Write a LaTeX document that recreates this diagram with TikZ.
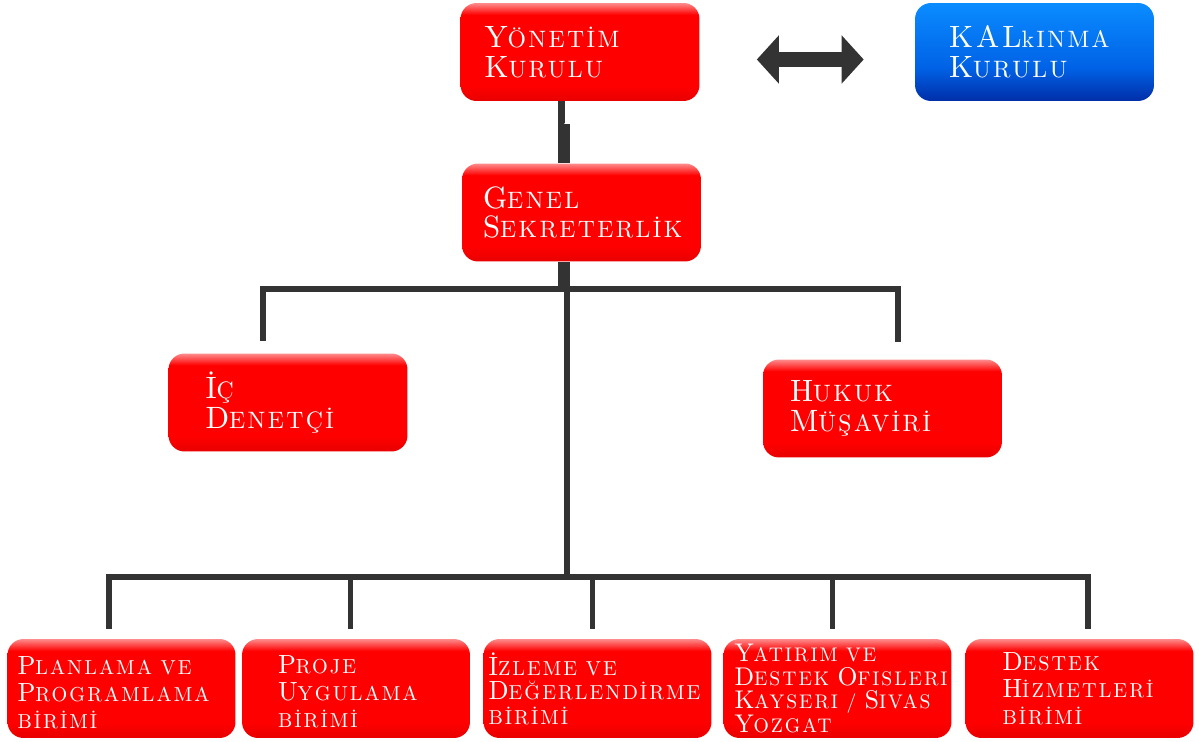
\documentclass[tikz,border=0pt]{standalone}
\usepackage{fontspec}
\newfontfamily\kutufont{lmroman10-regular.otf}[LetterSpace=10]
\usetikzlibrary{arrows.meta, positioning}

\definecolor{hatgri}{HTML}{333333}
\definecolor{kirmizi}{HTML}{FF0000}
\definecolor{kirmiziacik}{HTML}{FF8C8C}
\definecolor{kirmizikoyu}{HTML}{E80000}
\definecolor{maviacik}{HTML}{0A8CFF}
\definecolor{maviorta}{HTML}{0062E6}
\definecolor{mavikoyu}{HTML}{002EA8}

\pgfdeclareverticalshading{kirmiziparlak}{100bp}{color(0bp)=(kirmizikoyu); color(25bp)=(kirmizikoyu); color(33bp)=(kirmizi); color(69bp)=(kirmizi); color(75bp)=(kirmiziacik); color(100bp)=(kirmiziacik)}
\pgfdeclareverticalshading{maviparlak}{100bp}{color(0bp)=(mavikoyu); color(25bp)=(mavikoyu); color(42bp)=(maviorta); color(75bp)=(maviacik); color(100bp)=(maviacik)}

% buyuk bas harf
\makeatletter
\newcommand{\buyuk}[1]{{\fontsize{\strip@pt\dimexpr\f@size pt*13/10\relax}{\f@baselineskip}\selectfont#1}}
\makeatother

\tikzset{
  kutu/.style={rectangle, rounded corners=0.32cm, inner sep=0pt, minimum height=1.96cm, minimum width=4.78cm},
  kirmizikutu/.style={kutu, shade, shading=kirmiziparlak},
  mavikutu/.style={kutu, shade, shading=maviparlak},
  altkutu/.style={kirmizikutu, minimum width=4.56cm, minimum height=1.98cm},
  yazi/.style={text=white, align=left, inner sep=0pt, font=\kutufont\fontsize{13.5}{17}\selectfont},
  altyazi/.style={yazi, font=\kutufont\fontsize{11.5}{15.5}\selectfont},
  hat/.style={draw=hatgri, line width=0.12cm},
  blokok/.style={draw=hatgri, line width=0.3cm, {Triangle[length=0.44cm,width=0.94cm]}-{Triangle[length=0.44cm,width=0.94cm]}},
}

\begin{document}
\begin{tikzpicture}[x=0.02cm, y=-0.02cm]
\useasboundingbox (0,0) rectangle (1199,742);

% ust sira
\node[kirmizikutu] (yon) at (580,52) {};
\node[yazi, right=0.48cm of yon.west] (yonyazi) {\buyuk{Y}ÖNETİM\\\buyuk{K}URULU};
\node[mavikutu] (kalk) at (1034.5,52) {};
\node[yazi, right=0.68cm of kalk.west] (kalkyazi) {\buyuk{KAL}kINMA\\\buyuk{K}URULU};
\draw[blokok, shorten <=1.14cm, shorten >=1.02cm] ([yshift=-0.15cm]yon.east) -- ([yshift=-0.15cm]kalk.west);

% genel sekreterlik
\node[kirmizikutu] (genel) at (581.5,212.5) {};
\node[yazi, right=0.42cm of genel.west] (genelyazi) {\buyuk{G}ENEL\\\buyuk{S}EKRETERLİK};
\coordinate (kirik) at (564,124);
\draw[hat, line width=0.14cm] ([xshift=-0.37cm]yon.south) |- (kirik);
\draw[hat, line width=0.24cm] (kirik) -- (kirik |- genel.north);

% danisma birimleri
\node[kirmizikutu] (ic) at (288,402.5) {};
\node[yazi, right=0.74cm of ic.west] (icyazi) {\buyuk{İ}Ç\\\buyuk{D}ENETÇİ};
\node[kirmizikutu] (hukuk) at (882.5,408.5) {};
\node[yazi, right=0.54cm of hukuk.west] (hukukyazi) {\buyuk{H}UKUK\\\buyuk{M}ÜŞAVİRİ};
\coordinate (ust) at (567,289);
\draw[hat, line width=0.24cm] (kirik |- genel.south) -- (kirik |- ust);
\draw[hat] ([xshift=-0.5cm, yshift=0.24cm]ic.north) |- (ust) -| ([xshift=0.31cm, yshift=0.34cm]hukuk.north);

% alt birimler
\node[altkutu] (p1) at (121.5,688.5) {};
\node[altyazi, right=0.2cm of p1.west, yshift=-0.08cm] (p1yazi) {\buyuk{P}LANLAMA VE\\\buyuk{P}ROGRAMLAMA\\BİRİMİ};
\node[altkutu] (p2) at (356,688.5) {};
\node[altyazi, right=0.72cm of p2.west, yshift=-0.06cm] (p2yazi) {\buyuk{P}ROJE\\\buyuk{U}YGULAMA\\BİRİMİ};
\node[altkutu] (p3) at (597.5,688.5) {};
\node[altyazi, right=0.1cm of p3.west, font=\kutufont\fontsize{11.5}{14}\selectfont] (p3yazi) {\buyuk{İ}ZLEME VE\\\buyuk{D}EĞERLENDİRME\\BİRİMİ};
\node[altkutu] (p4) at (837.5,688.5) {};
\node[altyazi, right=0.22cm of p4.west, font=\kutufont\fontsize{11.2}{13.5}\selectfont] (p4yazi) {\buyuk{Y}ATIRIM VE\\\buyuk{D}ESTEK \buyuk{O}FISLERI\\\buyuk{K}AYSERI / \buyuk{S}IVAS\\\buyuk{Y}OZGAT};
\node[altkutu] (p5) at (1079.5,688.5) {};
\node[altyazi, right=0.74cm of p5.west] (p5yazi) {\buyuk{D}ESTEK\\\buyuk{H}İZMETLERİ\\BİRİMİ};

\coordinate (alt) at (567,577);
\draw[hat, line width=0.11cm] (ust) -- (alt);
\draw[hat] ([xshift=-0.25cm, yshift=0.2cm]p1.north) |- (alt) -| ([xshift=0.17cm, yshift=0.2cm]p5.north);
\foreach \kutu/\kay in {p2/-0.12, p3/-0.11, p4/-0.11}
  \draw[hat, line width=0.1cm] ([xshift=\kay cm, yshift=0.2cm]\kutu.north) |- (alt);
\end{tikzpicture}
\end{document}
